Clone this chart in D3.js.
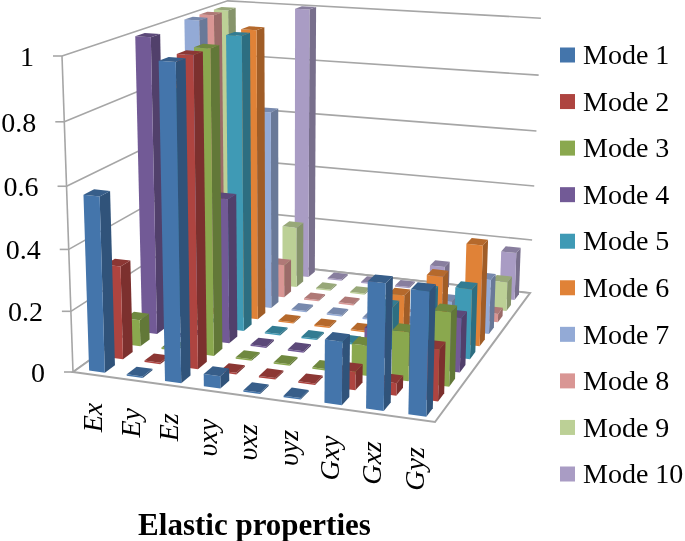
<!DOCTYPE html>
<html>
<head>
<meta charset="utf-8">
<script src="https://cdnjs.cloudflare.com/ajax/libs/d3/7.8.5/d3.min.js"></script>
<style>
  html, body { margin: 0; background: #fff; }
  svg { filter: blur(0.4px); }
  text { font-family: "Liberation Serif", serif; fill: #000; }
</style>
</head>
<body>
<div id="chart"></div>
<script>
var categories = ["Ex", "Ey", "Ez", "υxy", "υxz", "υyz", "Gxy", "Gxz", "Gyz"];
var modes = ["Mode 1", "Mode 2", "Mode 3", "Mode 4", "Mode 5", "Mode 6", "Mode 7", "Mode 8", "Mode 9", "Mode 10"];
var yTicks = [0, 0.2, 0.4, 0.6, 0.8, 1];

// one array per mode, same order as categories
var mode1 = [0.57, 0.005, 1, 0.04, 0.005, 0.005, 0.2, 0.395, 0.385];
var mode2 = [0.31, 0.005, 1, 0.005, 0.005, 0.005, 0.06, 0.04, 0.165];
var mode3 = [0.09, 0.005, 1, 0.005, 0.005, 0.005, 0.1, 0.16, 0.24];
var mode4 = [1, 0.005, 0.49, 0.005, 0.005, 0.005, 0.11, 0.1, 0.18];
var mode5 = [0.8, 0.005, 1, 0.005, 0.005, 0.005, 0.145, 0.21, 0.235];
var mode6 = [0.8, 0.005, 1, 0.005, 0.005, 0.005, 0.145, 0.225, 0.345];
var mode7 = [1, 0.005, 0.7, 0.005, 0.005, 0.005, 0.005, 0.1, 0.19];
var mode8 = [1, 0.005, 0.12, 0.005, 0.005, 0.005, 0.005, 0.05, 0.03];
var mode9 = [1, 0.005, 0.225, 0.005, 0.005, 0.005, 0.005, 0.05, 0.105];
var mode10 = [0.8, 0.005, 1, 0.005, 0.005, 0.005, 0.095, 0.005, 0.175];
var values = [mode1, mode2, mode3, mode4, mode5, mode6, mode7, mode8, mode9, mode10];

var colors = ["#4475ab", "#ae4440", "#8aa84e", "#725a96", "#3f9ab5", "#e08237", "#93aad6", "#d99694", "#bcd096", "#a99cc4"];

var width = 685, height = 541;

var svg = d3.select("#chart").append("svg")
    .attr("width", width)
    .attr("height", height);

// corners of the floor on the page, front left / front right / back right / back left
var floor = [[73, 372], [435, 422], [530, 293], [230, 260]];
var vanish = [285, 6464]; // where the verticals meet
var topLeftY = 56;

var dx1 = floor[1][0] - floor[2][0], dx2 = floor[3][0] - floor[2][0],
    dx3 = floor[0][0] - floor[1][0] + floor[2][0] - floor[3][0],
    dy1 = floor[1][1] - floor[2][1], dy2 = floor[3][1] - floor[2][1],
    dy3 = floor[0][1] - floor[1][1] + floor[2][1] - floor[3][1],
    den = dx1 * dy2 - dx2 * dy1,
    pg = (dx3 * dy2 - dx2 * dy3) / den,
    ph = (dx1 * dy3 - dx3 * dy1) / den,
    pa = floor[1][0] - floor[0][0] + pg * floor[1][0],
    pb = floor[3][0] - floor[0][0] + ph * floor[3][0],
    pd = floor[1][1] - floor[0][1] + pg * floor[1][1],
    pe = floor[3][1] - floor[0][1] + ph * floor[3][1],
    ps = (topLeftY - floor[0][1]) / (vanish[1] - topLeftY);

// u along the categories, v into the page, z up, all 0..1
function project(u, v, z) {
  var w = pg * u + ph * v + 1 + ps * z;
  return [(pa * u + pb * v + floor[0][0] + ps * vanish[0] * z) / w,
          (pd * u + pe * v + floor[0][1] + ps * vanish[1] * z) / w];
}

var xBand = d3.scaleBand().domain(categories).range([0.003, 1.003]).paddingInner(0.58).paddingOuter(0.29);
var zBand = d3.scaleBand().domain(modes).range([0, 1]).paddingInner(0.45).paddingOuter(0.225);
var yScale = d3.scaleLinear().domain([0, 1]).range([0, 1]);
var line = d3.line();
var gridColor = "#a6a6a6";

// walls
var grid = svg.append("g").attr("class", "grid");
grid.selectAll(".gridline")
    .data(yTicks)
  .enter().append("path")
    .attr("class", "gridline")
    .attr("fill", "none")
    .attr("stroke", gridColor)
    .attr("stroke-width", 1.6)
    .attr("d", function(d) {
      var z = yScale(d);
      return line([project(0, 0, z), project(0, 1, z), project(1, 1, z)]);
    });
grid.append("path")
    .attr("fill", "none")
    .attr("stroke", gridColor)
    .attr("stroke-width", 1.6)
    .attr("d", line([project(0, 0, 0), project(0, 0, 1)]));

// floor
svg.append("path")
    .attr("fill", "#fff")
    .attr("stroke", gridColor)
    .attr("stroke-width", 2)
    .attr("d", line([project(0, 0, 0), project(1, 0, 0), project(1, 1, 0), project(0, 1, 0)]) + "Z");

// value axis
var axisY = svg.append("g").attr("class", "axis axis--y");
var tick = axisY.selectAll(".tick")
    .data(yTicks)
  .enter().append("g")
    .attr("class", "tick")
    .attr("transform", function(d) {
      var p = project(0, 0, yScale(d));
      return "translate(" + p[0] + "," + p[1] + ")";
    });
tick.append("line")
    .attr("x1", -9)
    .attr("stroke", gridColor)
    .attr("stroke-width", 1.6);
tick.append("text")
    .attr("x", -28)
    .attr("dy", ".35em")
    .attr("text-anchor", "end")
    .style("font-size", "28px")
    .text(function(d) { return d; });

// bars, far ones first
var bars = [];
categories.forEach(function(c, i) {
  d3.range(modes.length - 1, -1, -1).forEach(function(m) {
    bars.push({category: c, mode: modes[m], color: colors[m], value: values[m][i]});
  });
});

var bar = svg.selectAll(".bar")
    .data(bars)
  .enter().append("g")
    .attr("class", "bar");

function corners(d) {
  var u0 = xBand(d.category), u1 = u0 + xBand.bandwidth(),
      v0 = zBand(d.mode), v1 = v0 + zBand.bandwidth(),
      z = yScale(d.value);
  return {u0: u0, u1: u1, v0: v0, v1: v1, z: z};
}

bar.append("path") // right side
    .attr("fill", function(d) { return d3.color(d.color).darker(0.95); })
    .attr("d", function(d) {
      var c = corners(d);
      return line([project(c.u1, c.v0, 0), project(c.u1, c.v1, 0), project(c.u1, c.v1, c.z), project(c.u1, c.v0, c.z)]) + "Z";
    });
bar.append("path") // front
    .attr("fill", function(d) { return d.color; })
    .attr("d", function(d) {
      var c = corners(d);
      return line([project(c.u0, c.v0, 0), project(c.u1, c.v0, 0), project(c.u1, c.v0, c.z), project(c.u0, c.v0, c.z)]) + "Z";
    });
bar.append("path") // top
    .attr("fill", function(d) { return d3.color(d.color).darker(0.6); })
    .attr("d", function(d) {
      var c = corners(d);
      return line([project(c.u0, c.v0, c.z), project(c.u1, c.v0, c.z), project(c.u1, c.v1, c.z), project(c.u0, c.v1, c.z)]) + "Z";
    });

// category labels
svg.selectAll(".cat")
    .data(categories)
  .enter().append("text")
    .attr("class", "cat")
    .attr("transform", function(d) {
      var p = project(xBand(d) + xBand.bandwidth() / 2, 0, 0);
      return "translate(" + (p[0] + 9) + "," + (p[1] + 28) + ") rotate(-90)";
    })
    .attr("text-anchor", "end")
    .style("font-size", "28px")
    .style("font-style", "italic")
    .text(function(d) { return d; });

// axis title
svg.append("text")
    .attr("x", 254.5)
    .attr("y", 535)
    .attr("text-anchor", "middle")
    .style("font-size", "31px")
    .style("font-weight", "bold")
    .text("Elastic properties");

// legend
var legendY = d3.scalePoint().domain(modes).range([55, 474]);
var legend = svg.selectAll(".legend")
    .data(modes)
  .enter().append("g")
    .attr("class", "legend")
    .attr("transform", function(d) { return "translate(560," + legendY(d) + ")"; });
legend.append("rect")
    .attr("y", -7.5)
    .attr("width", 15)
    .attr("height", 15)
    .attr("fill", function(d, i) { return colors[i]; });
legend.append("text")
    .attr("x", 23)
    .attr("dy", ".33em")
    .style("font-size", "28px")
    .text(function(d) { return d; });
</script>
</body>
</html>
